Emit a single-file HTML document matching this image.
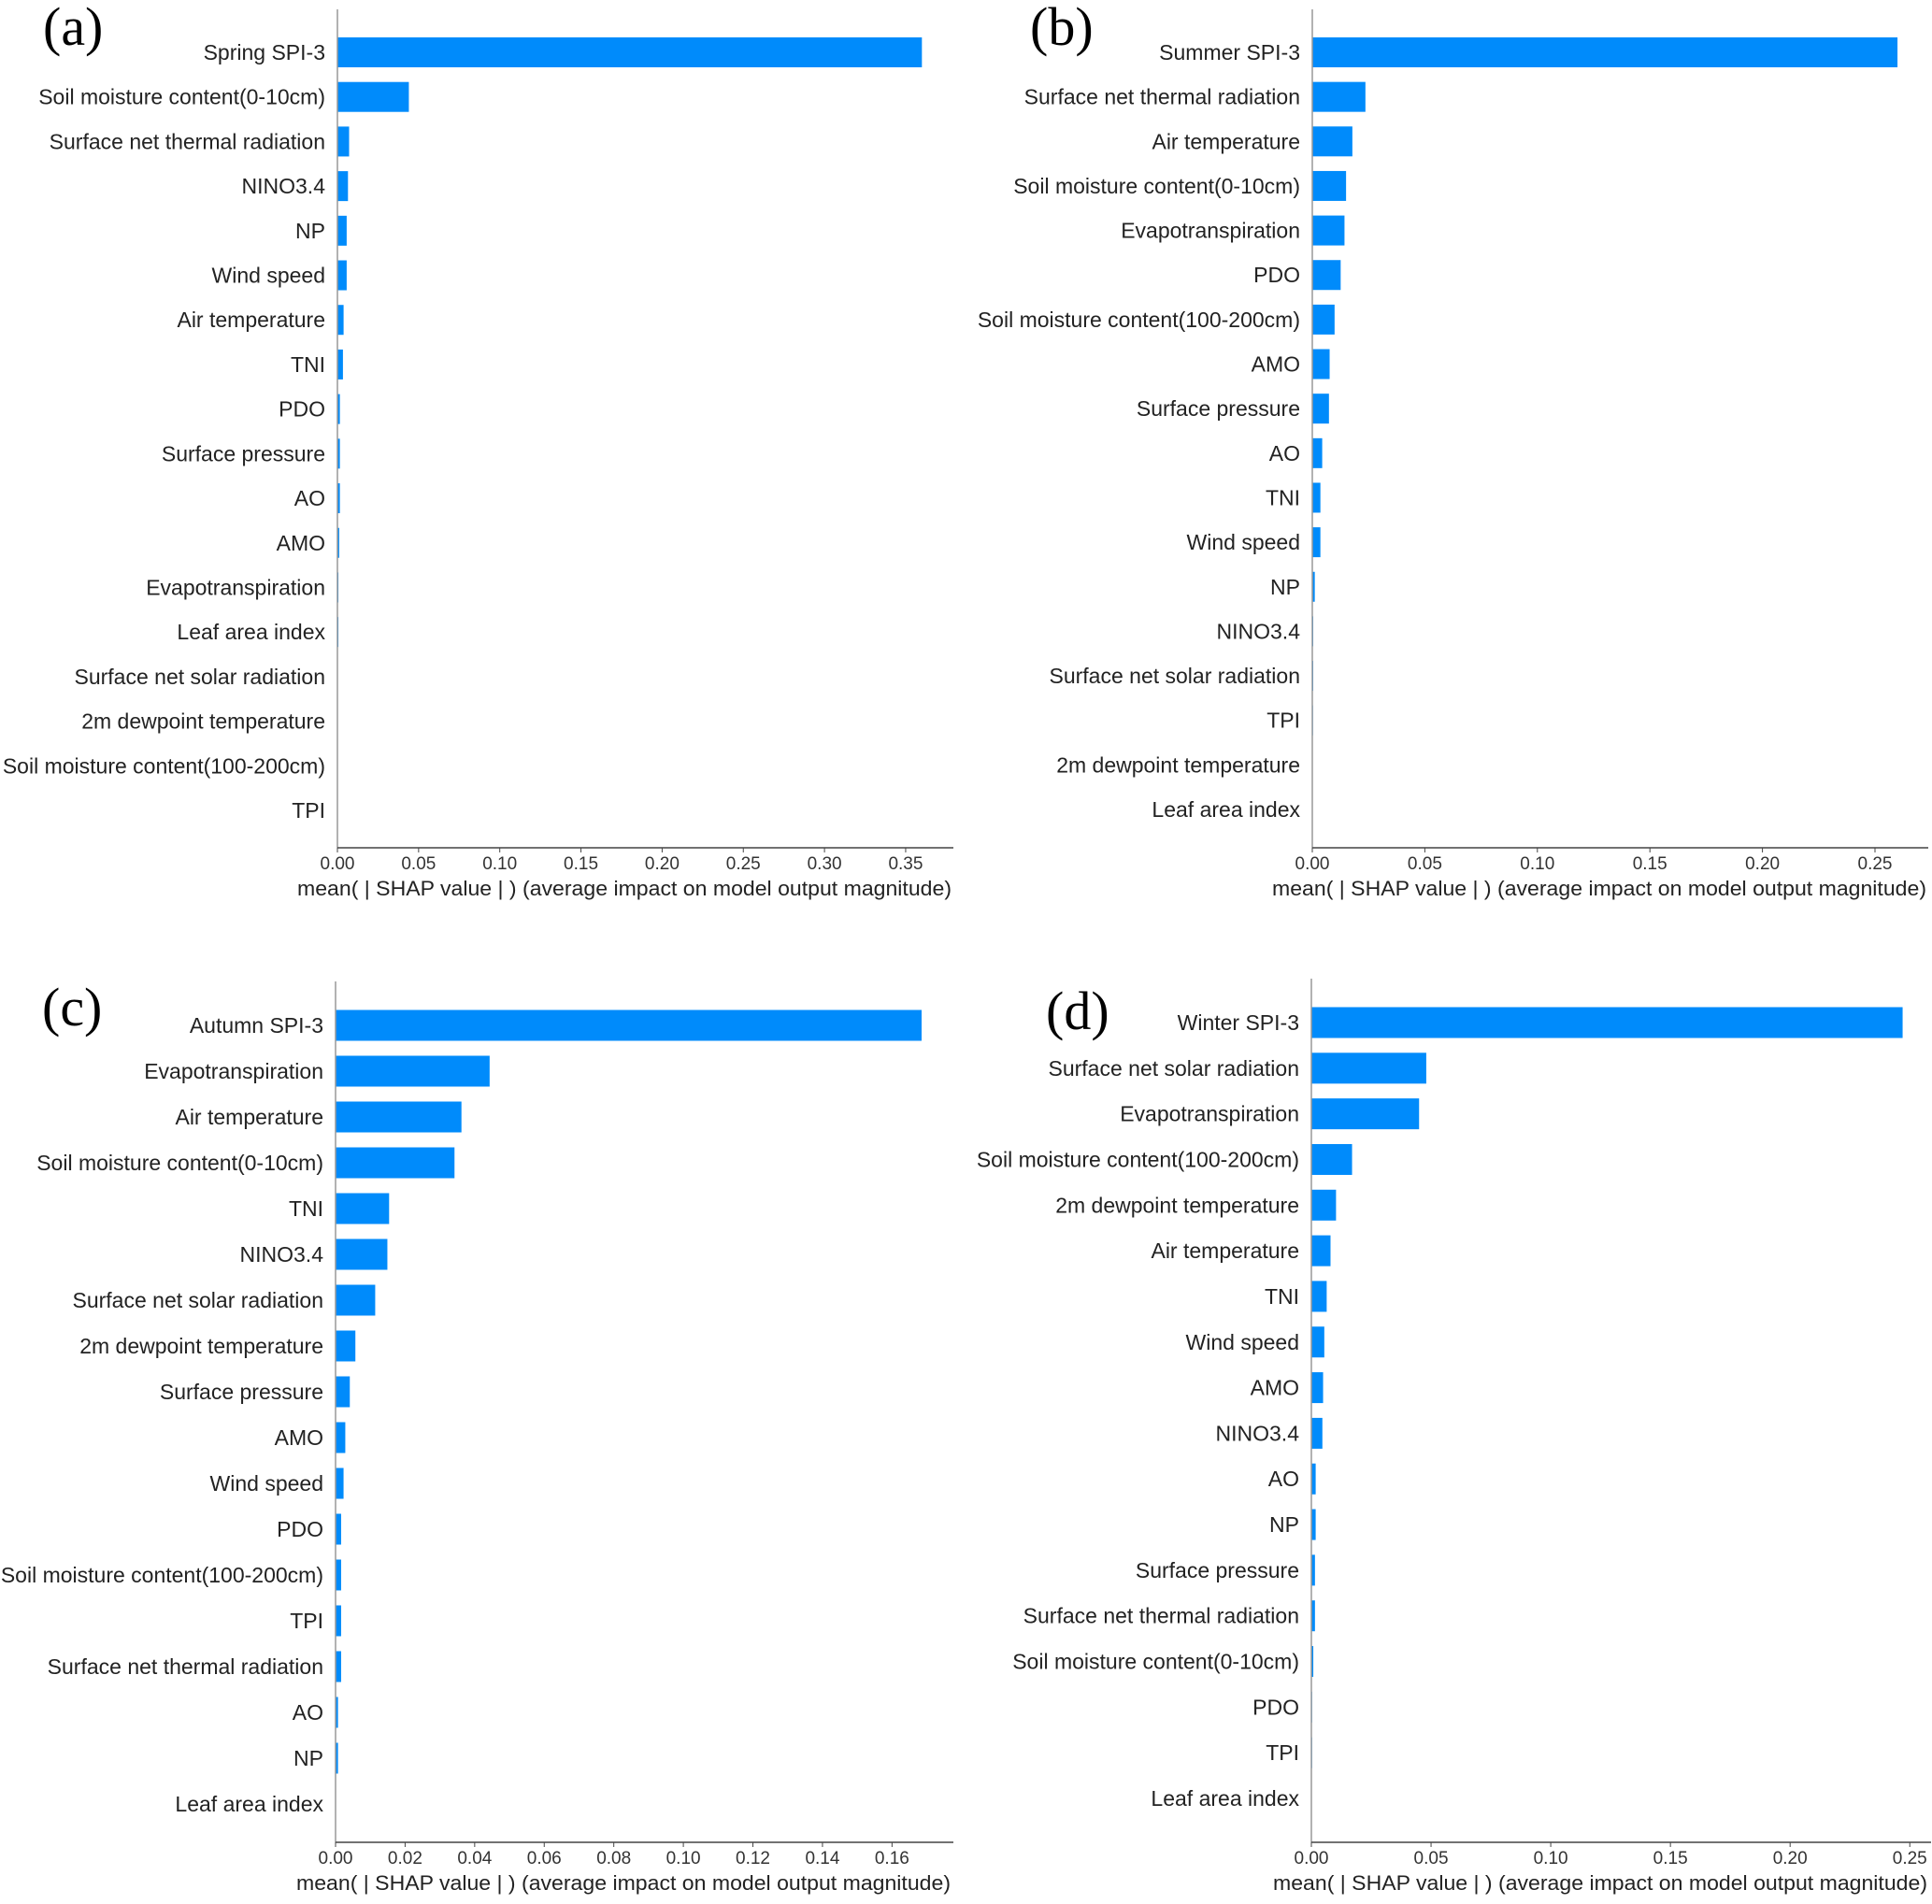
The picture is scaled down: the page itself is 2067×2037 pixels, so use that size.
<!DOCTYPE html>
<html><head><meta charset="utf-8"><style>
html,body{margin:0;padding:0;background:#fff;}
svg{display:block;}
</style></head><body>
<svg id="fig" width="2067" height="2037" viewBox="0 0 2067 2037" xmlns="http://www.w3.org/2000/svg" font-family="'Liberation Sans', sans-serif"></svg>
<script>
const aLabels=["Spring SPI-3","Soil moisture content(0-10cm)","Surface net thermal radiation","NINO3.4","NP","Wind speed","Air temperature","TNI","PDO","Surface pressure","AO","AMO","Evapotranspiration","Leaf area index","Surface net solar radiation","2m dewpoint temperature","Soil moisture content(100-200cm)","TPI"];
const aValues=[0.360,0.044,0.0072,0.0065,0.0057,0.0057,0.0038,0.0034,0.0015,0.0015,0.0015,0.0011,0.0006,0.0006,0.0001,0.0001,0,0];
const aTicks=[0,0.05,0.10,0.15,0.20,0.25,0.30,0.35];
const bLabels=["Summer SPI-3","Surface net thermal radiation","Air temperature","Soil moisture content(0-10cm)","Evapotranspiration","PDO","Soil moisture content(100-200cm)","AMO","Surface pressure","AO","TNI","Wind speed","NP","NINO3.4","Surface net solar radiation","TPI","2m dewpoint temperature","Leaf area index"];
const bValues=[0.260,0.0236,0.0178,0.015,0.0143,0.0126,0.0099,0.0077,0.0074,0.0044,0.0036,0.0036,0.0011,0.0004,0.0004,0.0003,0,0];
const bTicks=[0,0.05,0.10,0.15,0.20,0.25];
const cLabels=["Autumn SPI-3","Evapotranspiration","Air temperature","Soil moisture content(0-10cm)","TNI","NINO3.4","Surface net solar radiation","2m dewpoint temperature","Surface pressure","AMO","Wind speed","PDO","Soil moisture content(100-200cm)","TPI","Surface net thermal radiation","AO","NP","Leaf area index"];
const cValues=[0.1685,0.0443,0.0362,0.0342,0.0154,0.0149,0.0114,0.0057,0.0041,0.0028,0.0023,0.0016,0.0016,0.0016,0.0016,0.0007,0.0007,0];
const cTicks=[0,0.02,0.04,0.06,0.08,0.10,0.12,0.14,0.16];
const dLabels=["Winter SPI-3","Surface net solar radiation","Evapotranspiration","Soil moisture content(100-200cm)","2m dewpoint temperature","Air temperature","TNI","Wind speed","AMO","NINO3.4","AO","NP","Surface pressure","Surface net thermal radiation","Soil moisture content(0-10cm)","PDO","TPI","Leaf area index"];
const dValues=[0.247,0.048,0.045,0.017,0.0103,0.008,0.0064,0.0054,0.0049,0.0046,0.0018,0.0018,0.0015,0.0015,0.0008,0.0003,0.0003,0];
const dTicks=[0,0.05,0.10,0.15,0.20,0.25];

const NS="http://www.w3.org/2000/svg";
const svg=document.getElementById('fig');
function mk(tag,attrs,parent){const e=document.createElementNS(NS,tag);for(const k in attrs)e.setAttribute(k,attrs[k]);(parent||svg).appendChild(e);return e;}

function panel(id,letter,labels,values,ticks,L){
  const g=mk('g',{});
  
  
  const xs=v=>L.x0+v*L.scale;
  const n=labels.length;
  const ys=i=>L.yFirst+i*(L.yLast-L.yFirst)/(n-1);
  const t=mk('text',{x:L.lx,y:L.ly,'font-family':"'Liberation Serif', serif",'font-size':58,fill:'#000'},g);
  t.textContent='('+letter+')';
  
  
  for(let i=0;i<n;i++){
    const w=Math.max(0,xs(values[i])-L.x0);
    const r=mk('rect',{x:L.x0,y:ys(i)-L.bh/2,width:w,height:L.bh,fill:'#008bfb'},g);
    
    
    const lt=mk('text',{x:L.x0-13,y:ys(i)+8,'text-anchor':'end','font-size':23,fill:'#222'},g);
    lt.textContent=labels[i];
    
    
  }
  const ls=mk('line',{x1:L.x0,y1:L.top,x2:L.x0,y2:L.bottom,stroke:'#999','stroke-width':1.5},g);
  
  
  const bs=mk('line',{x1:L.x0,y1:L.bottom,x2:L.right,y2:L.bottom,stroke:'#444','stroke-width':1.5},g);
  
  
  for(const tv of ticks){
    const tx=xs(tv);
    mk('line',{x1:tx,y1:L.bottom,x2:tx,y2:L.bottom+5,stroke:'#444','stroke-width':1},g);
    const tl=mk('text',{x:tx,y:L.bottom+23,'text-anchor':'middle','font-size':19,fill:'#333'},g);
    tl.textContent=tv.toFixed(2);
    
    
  }
  const ti=mk('text',{x:(L.right+L.x0-45)/2,y:L.bottom+51,'text-anchor':'middle','font-size':22,fill:'#222',textLength:700,lengthAdjust:'spacingAndGlyphs'},g);
  ti.textContent='mean( | SHAP value | ) (average impact on model output magnitude)';
  
  
}
panel('a','a',aLabels,aValues,aTicks,{x0:361,right:1020,top:10,bottom:907,yFirst:56,yLast:867,bh:32,scale:1737,lx:46,ly:48});
panel('b','b',bLabels,bValues,bTicks,{x0:1404,right:2063,top:10,bottom:907,yFirst:56,yLast:866,bh:32,scale:2408,lx:1102,ly:48});
panel('c','c',cLabels,cValues,cTicks,{x0:359,right:1020,top:1050,bottom:1971,yFirst:1097,yLast:1930,bh:33,scale:3721,lx:45,ly:1097});
panel('d','d',dLabels,dValues,dTicks,{x0:1403,right:2066,top:1047,bottom:1971,yFirst:1094,yLast:1924,bh:33,scale:2561,lx:1119,ly:1101});
</script>
</body></html>
